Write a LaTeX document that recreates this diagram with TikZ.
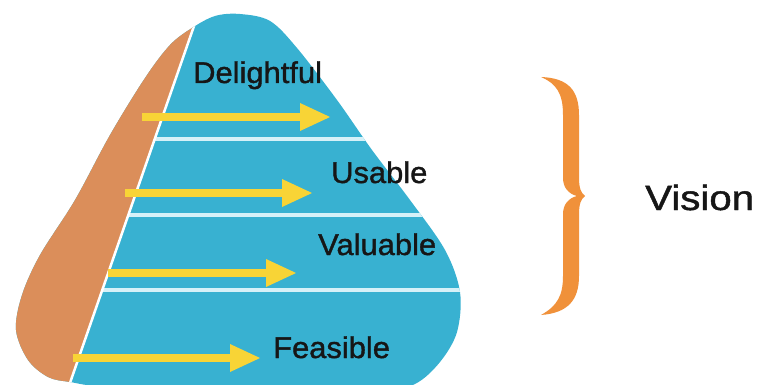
\documentclass[tikz,border=0pt]{standalone}
\usepackage{fontspec}
\setmainfont{Liberation Sans}
\newfontfamily\lblfont[FakeBold=1.2]{Liberation Sans}
\definecolor{pblue}{HTML}{38B1D1}
\definecolor{porange}{HTML}{DB8E5A}
\definecolor{pyellow}{HTML}{F8D436}
\definecolor{pbrace}{HTML}{F0913A}
\definecolor{psep}{HTML}{D6F1F8}
\definecolor{ptext}{HTML}{161616}
\tikzset{
  lbl/.style={anchor=base west, inner sep=0pt, text=ptext, xscale=1.03,
    font=\lblfont\fontsize{30}{36}\selectfont},
  sepline/.style={draw=psep, line width=3.2pt},
  divider/.style={draw=white, line width=2.5pt},
  arrowfill/.style={fill=pyellow},
}
% yellow arrow: tail x, tip x, y
\newcommand\yarrow[3]{%
  \fill[arrowfill] (#1,{#3-3.8}) -- ({#2-30},{#3-3.8}) -- ({#2-30},{#3-14}) -- (#2,#3)
     -- ({#2-30},{#3+14}) -- ({#2-30},{#3+3.8}) -- (#1,{#3+3.8}) -- cycle;}
\begin{document}
\begin{tikzpicture}[x=1pt,y=-1pt]
\useasboundingbox (0,0) rectangle (763,385);
\clip (0,0) rectangle (763,385);
% pyramid shape
\begin{scope}
  \clip plot[smooth cycle, tension=0.55] coordinates {
    (192,28) (215,16) (240,14) (270,21) (297,48) (337,100) (372,150) (410,200)
    (445,250) (460,292) (457,332) (440,362) (415,384) (380,391) (250,392)
    (110,387) (70,382) (48,377) (28,360) (16,330) (22,295) (40,255) (75,200)
    (110,135) (145,78) (170,45)};
  \fill[pblue] (0,0) rectangle (763,385);
  \foreach \yy in {139,215,290} \draw[sepline] (60,\yy) -- (520,\yy);
  \fill[porange] (-10,-10) -- (206.5,-10) -- (65.8,395) -- (-10,395) -- cycle;
  \draw[divider] (206.5,-10) -- (65.8,395);
\end{scope}
% arrows
\yarrow{142}{330}{117}
\yarrow{125}{312}{193}
\yarrow{108}{296}{273}
\yarrow{73}{260}{358}
% labels
\node[lbl] (delightful) at (193,83) {Delightful};
\node[lbl] (usable) at (331,183) {Usable};
\node[lbl] (valuable) at (318,255) {Valuable};
\node[lbl] (feasible) at (273,358) {Feasible};
% brace
\fill[pbrace] (541,77) .. controls (568,78) and (579,90) .. (579,115) -- (579,178)
  .. controls (579,188) and (581,193) .. (585,196)
  .. controls (581,199) and (579,204) .. (579,214) -- (579,276)
  .. controls (579,300) and (568,313) .. (541,315)
  .. controls (557,306) and (563,296) .. (563,276) -- (563,214)
  .. controls (563,204) and (569,198) .. (577,196)
  .. controls (569,194) and (563,188) .. (563,178) -- (563,115)
  .. controls (563,94) and (557,84) .. (541,77) -- cycle;
\node[anchor=base west, inner sep=0pt, text=ptext, font=\lblfont\fontsize{35}{40}\selectfont, xscale=1.15] (vision) at (645,210) {Vision};
\end{tikzpicture}
\end{document}
